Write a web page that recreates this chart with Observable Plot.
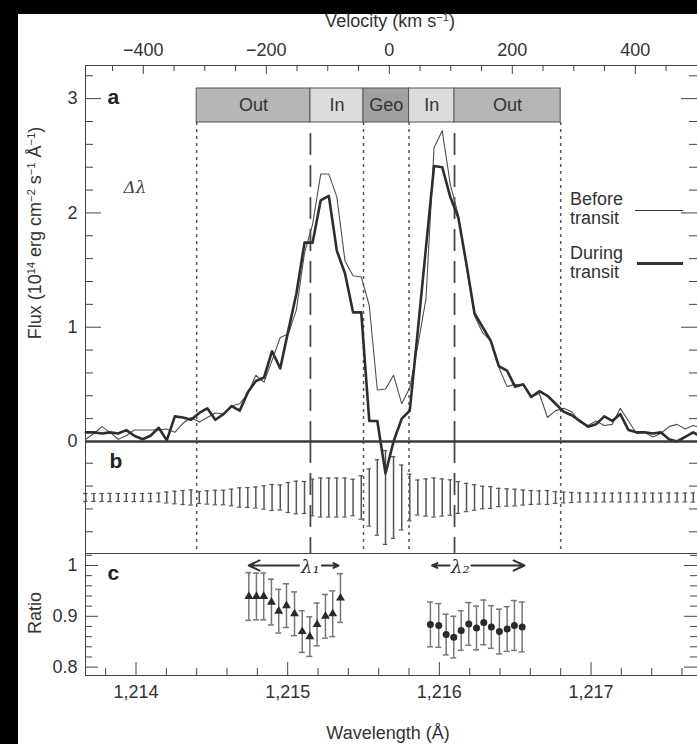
<!DOCTYPE html>
<html><head><meta charset="utf-8">
<script src="https://cdn.jsdelivr.net/npm/d3@7"></script>
<script src="https://cdn.jsdelivr.net/npm/@observablehq/plot@0.6"></script>
<style>
html,body{margin:0;padding:0;background:#000;width:697px;height:744px;overflow:hidden;}
#page{position:absolute;left:18px;top:14px;width:679px;height:730px;background:#fff;}
#chart{position:absolute;left:0;top:0;width:697px;height:744px;}
.panel{position:absolute;left:0;width:697px;}
.panel svg{display:block;}
.t{position:absolute;font-family:"Liberation Sans",Arial,sans-serif;font-size:18px;color:#333;white-space:nowrap;line-height:19px;}
.t sup{font-size:0.62em;vertical-align:0.5em;line-height:0;}
</style></head><body>
<div id="page"></div>
<div id="chart"></div>
<script>
// ---------- data ----------
const wavelength = [
 1213.669,1213.722,1213.776,1213.829,1213.883,1213.936,1213.989,1214.043,1214.096,1214.150,
 1214.203,1214.256,1214.310,1214.363,1214.417,1214.470,1214.523,1214.577,1214.630,1214.684,
 1214.737,1214.790,1214.844,1214.897,1214.951,1215.004,1215.057,1215.111,1215.164,1215.218,
 1215.271,1215.324,1215.378,1215.431,1215.485,1215.538,1215.591,1215.645,1215.698,1215.752,
 1215.805,1215.858,1215.912,1215.965,1216.019,1216.072,1216.125,1216.179,1216.232,1216.286,
 1216.339,1216.392,1216.446,1216.499,1216.553,1216.606,1216.659,1216.713,1216.766,1216.820,
 1216.873,1216.926,1216.980,1217.033,1217.087,1217.140,1217.193,1217.247,1217.300,1217.354,
 1217.407,1217.460,1217.514,1217.567,1217.621,1217.674,1217.727];
const fluxBefore = [
 0.02,0.07,0.13,0.08,0.02,0.05,0.10,0.10,0.10,0.10,
 0.11,0.08,0.16,0.21,0.17,0.21,0.25,0.24,0.31,0.33,
 0.42,0.58,0.52,0.71,0.91,0.94,1.15,1.65,1.90,2.34,
 2.34,2.14,1.58,1.45,1.44,1.19,0.45,0.46,0.58,0.33,
 0.47,0.84,1.25,2.57,2.72,2.25,1.98,1.52,1.10,0.95,
 0.88,0.65,0.48,0.50,0.49,0.39,0.42,0.21,0.27,0.29,
 0.26,0.17,0.14,0.18,0.14,0.15,0.29,0.18,0.07,0.08,
 0.04,0.07,0.13,0.15,0.11,0.14,0.12];
const fluxDuring = [
 0.08,0.08,0.07,0.08,0.07,0.10,0.05,0.02,0.05,0.12,
 0.01,0.22,0.21,0.19,0.25,0.29,0.19,0.24,0.31,0.27,
 0.43,0.53,0.56,0.79,0.64,0.97,1.29,1.74,1.74,2.11,
 2.15,1.67,1.47,1.13,1.13,0.18,0.18,-0.28,0.00,0.20,
 0.27,0.97,1.70,2.41,2.40,2.14,1.96,1.55,1.12,1.00,
 0.88,0.66,0.62,0.48,0.50,0.39,0.44,0.40,0.33,0.26,
 0.23,0.18,0.13,0.15,0.22,0.18,0.24,0.10,0.08,0.08,
 0.07,0.08,0.02,0.00,0.04,0.08,0.04];
const fluxError = [
 0.035,0.034,0.035,0.036,0.035,0.035,0.036,0.035,0.036,0.038,
 0.048,0.055,0.061,0.066,0.052,0.058,0.064,0.064,0.073,0.085,
 0.087,0.092,0.102,0.114,0.109,0.131,0.143,0.140,0.160,0.171,
 0.171,0.171,0.171,0.160,0.190,0.250,0.330,0.410,0.357,0.284,
 0.204,0.153,0.163,0.171,0.163,0.155,0.139,0.124,0.112,0.099,
 0.095,0.080,0.076,0.073,0.066,0.061,0.058,0.061,0.052,0.047,
 0.044,0.040,0.039,0.040,0.039,0.038,0.040,0.039,0.038,0.040,
 0.039,0.038,0.040,0.039,0.039,0.040,0.039];

const triWavelength = [1214.744,1214.794,1214.842,1214.893,1214.941,1214.992,1215.045,1215.096,1215.146,1215.194,1215.249,1215.297,1215.348];
const triRatio = [0.939,0.939,0.939,0.928,0.910,0.921,0.905,0.870,0.860,0.884,0.900,0.905,0.936];
const triError = [0.047,0.046,0.046,0.045,0.043,0.043,0.043,0.041,0.039,0.042,0.043,0.045,0.048];
const circWavelength = [1215.941,1215.996,1216.045,1216.095,1216.144,1216.194,1216.245,1216.293,1216.343,1216.396,1216.447,1216.495,1216.546];
const circRatio = [0.884,0.882,0.864,0.859,0.872,0.885,0.877,0.888,0.879,0.870,0.875,0.882,0.879];
const circError = [0.044,0.043,0.040,0.041,0.039,0.042,0.043,0.044,0.042,0.044,0.044,0.049,0.049];

const regionNames = ["Out","In","Geo","In","Out"];
const regionStart = [1214.40,1215.15,1215.50,1215.80,1216.10];
const regionEnd   = [1215.15,1215.50,1215.80,1216.10,1216.80];
const dottedLambda = [1214.40,1215.50,1215.80,1216.80];
const dashedLambda = [1215.15,1216.10];

const arrowLabels = ["λ₁","λ₂"];
const arrowCenter = [1215.150,1216.139];
const arrowStart  = [1214.743,1215.952];
const arrowEnd    = [1215.335,1216.561];
const arrowGapLo  = [1215.075,1216.067];
const arrowGapHi  = [1215.225,1216.211];

const velocityMajor = [-400,-200,0,200,400];
const velocityMinor = [-450,-350,-300,-250,-150,-100,-50,50,100,150,250,300,350,450];
const fluxMajor = [0,1,2,3];
const fluxMinor = [0.2,0.4,0.6,0.8,1.2,1.4,1.6,1.8,2.2,2.4,2.6,2.8,3.2];
const diffTicks = [-0.3,-0.1,0.1,0.3];
const ratioMajor = [0.8,0.9,1.0];
const ratioMinor = [0.82,0.84,0.86,0.88,0.92,0.94,0.96,0.98,1.02];
const wavelengthMajor = [1214,1215,1216,1217];
const wavelengthMinor = [1213.8,1214.2,1214.4,1214.6,1214.8,1215.2,1215.4,1215.6,1215.8,1216.2,1216.4,1216.6,1216.8,1217.2,1217.4,1217.6];

// ---------- setup ----------
const LYA = 1215.67, C_KMS = 299792.458;
const toLambda = v => LYA * (1 + v / C_KMS);
const spectrum = wavelength.map((w, i) => ({wavelength: w, before: fluxBefore[i], during: fluxDuring[i], error: fluxError[i]}));
const regions = regionNames.map((n, i) => ({name: n, start: regionStart[i], end: regionEnd[i]}));
const tri = triWavelength.map((w, i) => ({w, r: triRatio[i], e: triError[i]}));
const circ = circWavelength.map((w, i) => ({w, r: circRatio[i], e: circError[i]}));
const arrows = arrowLabels.flatMap((l, i) => [{from: arrowGapLo[i], to: arrowStart[i]}, {from: arrowGapHi[i], to: arrowEnd[i]}]);
const labels = arrowLabels.map((l, i) => ({l, x: arrowCenter[i]}));
const regionFill = {Out: "#b6b6b6", In: "#dcdcdc", Geo: "#a0a0a0"};

const FONT = '"Liberation Sans", Arial, sans-serif';
const xDomain = [1213.667, 1217.702];
const FW = 612; // frame width in px
const baseStyle = {background: "none", overflow: "visible", fontFamily: FONT, fontSize: "18px", color: "#333"};
const INK = "#444";
const capA = 2.2 / 151.7, capC = 3 / 151.7;

// ---------- panel a ----------
const FH_A = 376;
const pa = Plot.plot({
  width: 697, height: 442, marginLeft: 85, marginRight: 0, marginTop: 65, marginBottom: 1,
  x: {domain: xDomain, axis: null},
  y: {domain: [0, 3.29]},
  style: baseStyle,
  marks: [
    Plot.rect(regions, {x1: "start", x2: "end", fill: d => regionFill[d.name], stroke: "#555", strokeWidth: 1, insetTop: 23, insetBottom: 319}),
    Plot.text(regions, {x: d => (d.start + d.end) / 2, text: "name", frameAnchor: "top", lineAnchor: "middle", dy: 40, fontSize: 18, fill: "#333"}),
    Plot.ruleX(dottedLambda, {x: d => d, stroke: "#555", strokeWidth: 1.5, strokeDasharray: "3,4", insetTop: 57}),
    Plot.ruleX(dashedLambda, {x: d => d, stroke: "#4a4a4a", strokeWidth: 1.8, strokeDasharray: "22,10", insetTop: 68}),
    Plot.frame({stroke: INK, strokeWidth: 1}),
    Plot.tickY(fluxMajor, {y: d => d, insetRight: FW - 16, stroke: INK}),
    Plot.tickY(fluxMinor, {y: d => d, insetRight: FW - 8, stroke: INK}),
    Plot.tickY(fluxMajor, {y: d => d, insetLeft: FW - 16, stroke: INK}),
    Plot.tickY(fluxMinor, {y: d => d, insetLeft: FW - 8, stroke: INK}),
    Plot.tickX(velocityMajor, {x: toLambda, insetBottom: FH_A - 9, stroke: INK}),
    Plot.tickX(velocityMinor, {x: toLambda, insetBottom: FH_A - 6, stroke: INK}),
    Plot.text(velocityMajor, {x: toLambda, text: v => v < 0 ? "\u2212" + (-v) : String(v), frameAnchor: "top", lineAnchor: "middle", dy: -15, fontSize: 18, fill: "#333"}),
    Plot.axisY(fluxMajor, {tickSize: 0, tickPadding: 8, fontSize: 18, tickFormat: d => String(d), label: null}),
    Plot.line(spectrum, {x: "wavelength", y: "before", stroke: "#505050", strokeWidth: 1.1}),
    Plot.line(spectrum, {x: "wavelength", y: "during", stroke: "#2e2e2e", strokeWidth: 2.6}),
    Plot.ruleY([0], {stroke: "#3a3a3a", strokeWidth: 2.5}),
    Plot.text(["a"], {frameAnchor: "top-left", lineAnchor: "middle", dx: 22, dy: 32, fontWeight: "bold", textAnchor: "start", fontSize: 21, fill: "#222"}),
    Plot.text(["Δλ"], {frameAnchor: "top-left", lineAnchor: "middle", dx: 38, dy: 122, fontFamily: "DejaVu Serif", fontStyle: "italic", fontSize: 17, textAnchor: "start", fill: "#444"})
  ]
});

// ---------- panel b ----------
const pb = Plot.plot({
  width: 697, height: 113, marginLeft: 85, marginRight: 0, marginTop: 0, marginBottom: 1,
  x: {domain: xDomain, axis: null},
  y: {domain: [-0.49, 0.49], axis: null},
  style: baseStyle,
  marks: [
    Plot.frame({stroke: INK, strokeWidth: 1}),
    Plot.ruleX(dottedLambda, {x: d => d, stroke: "#555", strokeWidth: 1.5, strokeDasharray: "3,4"}),
    Plot.ruleX(dashedLambda, {x: d => d, stroke: "#4a4a4a", strokeWidth: 1.8, strokeDasharray: "22,10"}),
    Plot.tickY(diffTicks, {y: d => d, insetRight: FW - 8, stroke: INK}),
    Plot.tickY(diffTicks, {y: d => d, insetLeft: FW - 8, stroke: INK}),
    Plot.ruleX(spectrum, {x: "wavelength", y1: d => -d.error, y2: d => d.error, stroke: "#555", strokeWidth: 1.5}),
    Plot.ruleY(spectrum, {y: d => d.error, x1: d => d.wavelength - capA, x2: d => d.wavelength + capA, stroke: "#555", strokeWidth: 1.2}),
    Plot.ruleY(spectrum, {y: d => -d.error, x1: d => d.wavelength - capA, x2: d => d.wavelength + capA, stroke: "#555", strokeWidth: 1.2}),
    Plot.text(["b"], {frameAnchor: "top-left", lineAnchor: "middle", dx: 24, dy: 20, fontWeight: "bold", textAnchor: "start", fontSize: 21, fill: "#222"})
  ]
});

// ---------- panel c ----------
const FH_C = 122;
const pc = Plot.plot({
  width: 697, height: 191, marginLeft: 85, marginRight: 0, marginTop: 0, marginBottom: 69,
  x: {domain: xDomain},
  y: {domain: [0.7835, 1.0236]},
  style: baseStyle,
  marks: [
    Plot.frame({stroke: INK, strokeWidth: 1}),
    Plot.tickY(ratioMajor, {y: d => d, insetRight: FW - 13, stroke: INK}),
    Plot.tickY(ratioMinor, {y: d => d, insetRight: FW - 7, stroke: INK}),
    Plot.tickY(ratioMajor, {y: d => d, insetLeft: FW - 13, stroke: INK}),
    Plot.tickY(ratioMinor, {y: d => d, insetLeft: FW - 7, stroke: INK}),
    Plot.tickX(wavelengthMajor, {x: d => d, insetTop: FH_C - 13, stroke: INK}),
    Plot.tickX(wavelengthMinor, {x: d => d, insetTop: FH_C - 7, stroke: INK}),
    Plot.axisX(wavelengthMajor, {tickSize: 0, tickPadding: 10, tickFormat: d3.format(","), fontSize: 18, label: null}),
    Plot.axisY(ratioMajor, {tickSize: 0, tickPadding: 8, tickFormat: d => d === 1 ? "1" : d3.format(".1f")(d), fontSize: 18, label: null}),
    Plot.ruleX(tri, {x: "w", y1: d => d.r - d.e, y2: d => d.r + d.e, stroke: "#777", strokeWidth: 1.5}),
    Plot.ruleY(tri, {y: d => d.r - d.e, x1: d => d.w - capC, x2: d => d.w + capC, stroke: "#777", strokeWidth: 1.5}),
    Plot.ruleY(tri, {y: d => d.r + d.e, x1: d => d.w - capC, x2: d => d.w + capC, stroke: "#777", strokeWidth: 1.5}),
    Plot.ruleX(circ, {x: "w", y1: d => d.r - d.e, y2: d => d.r + d.e, stroke: "#777", strokeWidth: 1.5}),
    Plot.ruleY(circ, {y: d => d.r - d.e, x1: d => d.w - capC, x2: d => d.w + capC, stroke: "#777", strokeWidth: 1.5}),
    Plot.ruleY(circ, {y: d => d.r + d.e, x1: d => d.w - capC, x2: d => d.w + capC, stroke: "#777", strokeWidth: 1.5}),
    Plot.dot(tri, {x: "w", y: "r", symbol: "triangle", r: 3.3, fill: "#2a2a2a"}),
    Plot.dot(circ, {x: "w", y: "r", r: 3.5, fill: "#2a2a2a"}),
    Plot.arrow(arrows, {x1: "from", y1: () => 1, x2: "to", y2: () => 1, stroke: "#333", strokeWidth: 2, headLength: 9, headAngle: 50}),
    Plot.text(labels, {x: "x", y: () => 1, text: "l", dy: 2, fontFamily: "DejaVu Serif", fontStyle: "italic", fontSize: 18, fill: "#333"}),
    Plot.text(["c"], {frameAnchor: "top-left", lineAnchor: "middle", dx: 22, dy: 20, fontWeight: "bold", textAnchor: "start", fontSize: 21, fill: "#222"})
  ]
});

const chart = document.getElementById("chart");
function place(node, top, z) {
  const d = document.createElement("div");
  d.className = "panel"; d.style.top = top + "px"; d.style.zIndex = z;
  d.append(node); chart.append(d);
}
place(pc, 553, 1);
place(pb, 441, 2);
place(pa, 0, 3);

function addText(html, left, top, extra) {
  const d = document.createElement("div");
  d.className = "t"; d.innerHTML = html;
  d.style.left = left + "px"; d.style.top = top + "px"; d.style.zIndex = 5;
  if (extra) Object.assign(d.style, extra);
  chart.append(d);
  return d;
}
function addLine(left, top, w, h) {
  const d = document.createElement("div");
  Object.assign(d.style, {position: "absolute", left: left + "px", top: top + "px", width: w + "px", height: h + "px", background: "#333", zIndex: 5});
  chart.append(d);
}
// titles
addText("Velocity (km s<sup>\u22121</sup>)", 390, 21, {transform: "translate(-50%,-50%)"});
addText("Flux (10<sup>14</sup> erg cm<sup>\u22122</sup> s<sup>\u22121</sup> \u00c5<sup>\u22121</sup>)", 35, 233, {transform: "translate(-50%,-50%) rotate(-90deg)"});
addText("Ratio", 35, 613, {transform: "translate(-50%,-50%) rotate(-90deg)"});
addText("Wavelength (\u00c5)", 388, 733, {transform: "translate(-50%,-50%)"});
// legend
addText("Before<br>transit", 570, 190);
addLine(635, 210, 48, 1.2);
addText("During<br>transit", 570, 244);
addLine(637, 262, 46, 2.6);
</script>
</body></html>
